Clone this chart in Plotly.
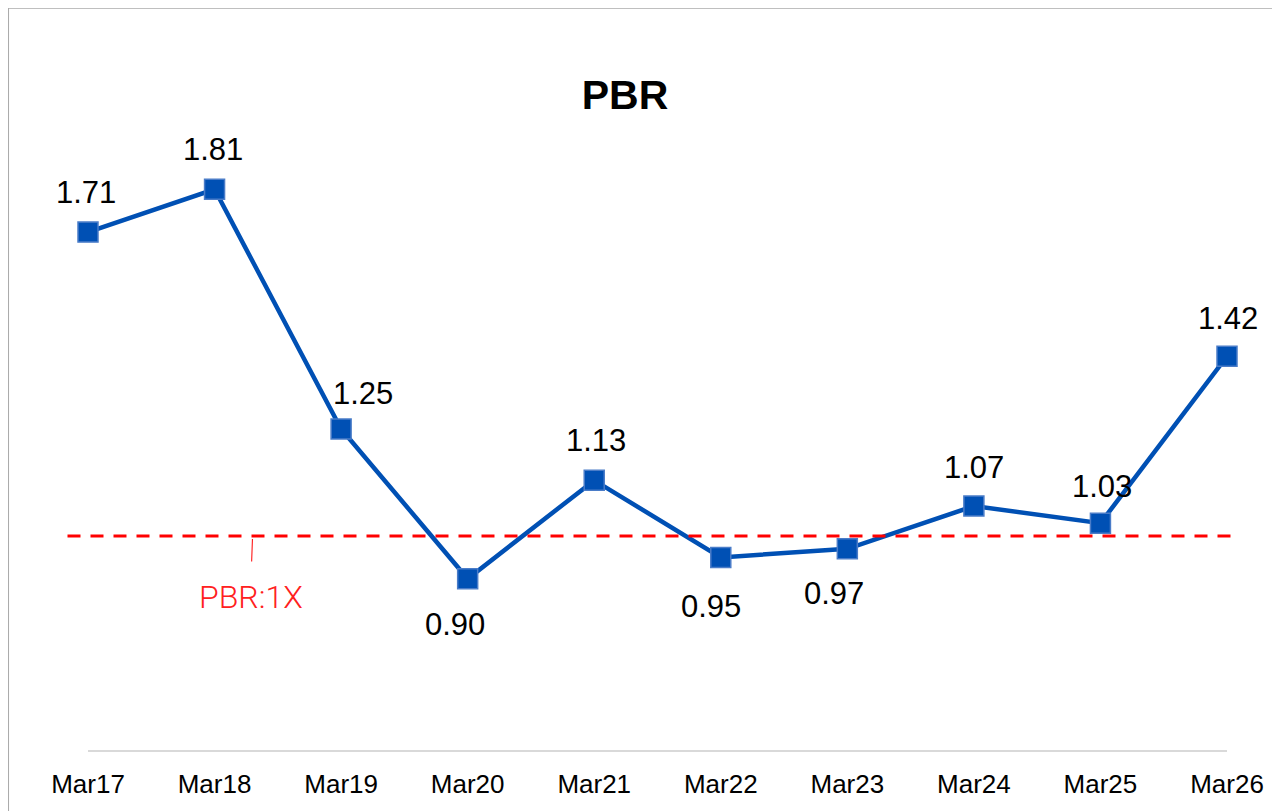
import plotly.graph_objects as go

categories = ["Mar17", "Mar18", "Mar19", "Mar20", "Mar21", "Mar22", "Mar23", "Mar24", "Mar25", "Mar26"]
pbr_values = [1.71, 1.81, 1.25, 0.90, 1.13, 0.95, 0.97, 1.07, 1.03, 1.42]
label_texts = ["1.71", "1.81", "1.25", "0.90", "1.13", "0.95", "0.97", "1.07", "1.03", "1.42"]
# label offsets in pixels (x, y up)
label_dx = [-2, -2, 22, -13, 2, -10, -13, 0, 2, 1]
label_dy = [40, 40, 36, -46, 40, -49, -45, 39, 37, 38]
reference_level = 1.0
reference_label = "PBR:1X"

xs = list(range(len(categories)))

fig = go.Figure()
fig.add_trace(go.Scatter(
    x=xs, y=pbr_values, mode="lines+markers",
    line=dict(color="#0050B4", width=4.5),
    marker=dict(symbol="square", size=20, color="#0050B4",
                line=dict(color="#4A7CC8", width=1.5)),
    cliponaxis=False, hoverinfo="skip", showlegend=False,
))

for x, v, t, dx, dy in zip(xs, pbr_values, label_texts, label_dx, label_dy):
    fig.add_annotation(x=x, y=v, text=t, showarrow=False, xshift=dx, yshift=dy,
                       xanchor="center", yanchor="middle",
                       font=dict(family="Liberation Sans, Arial", size=31, color="#000000"))

# dashed reference line
fig.add_shape(type="line", xref="paper", yref="y", x0=-0.018, x1=1.0053,
              y0=reference_level, y1=reference_level,
              line=dict(color="#FF0000", width=3, dash="13px,10px"))

# reference label with tick
fig.add_annotation(x=1.3, y=reference_level, text=reference_label, showarrow=True,
                   arrowhead=0, arrowwidth=1, arrowcolor="#FF0000", ax=-2, ay=61,
                   standoff=3, startstandoff=15,
                   font=dict(family="Roboto", size=32, color="#FF2020", weight=300))

# outer border
fig.add_shape(type="rect", xref="paper", yref="paper", x0=-0.0702, x1=1.2, y0=-0.2, y1=1.1563,
              line=dict(color="#ABABAB", width=2), layer="below")

fig.update_layout(
    width=1272, height=803,
    margin=dict(l=80, r=53, t=100, b=57),
    paper_bgcolor="white", plot_bgcolor="white",
    title=dict(text="<b>PBR</b>", x=0.4715, xref="paper", xanchor="center",
               y=1 - 87 / 803, yref="container", yanchor="middle",
               font=dict(family="Liberation Sans, Arial", size=41, color="#000000")),
    xaxis=dict(range=[0, 9], tickmode="array", tickvals=xs, ticktext=categories,
               showgrid=False, zeroline=False, showline=True, linecolor="#D9D9D9", linewidth=1.5,
               ticks="outside", ticklen=10, tickcolor="rgba(0,0,0,0)",
               tickfont=dict(family="Liberation Sans, Arial", size=26, color="#000000")),
    yaxis=dict(range=[0.5, 2.0], visible=False, showgrid=False, zeroline=False),
)

fig.write_html("out.html")
